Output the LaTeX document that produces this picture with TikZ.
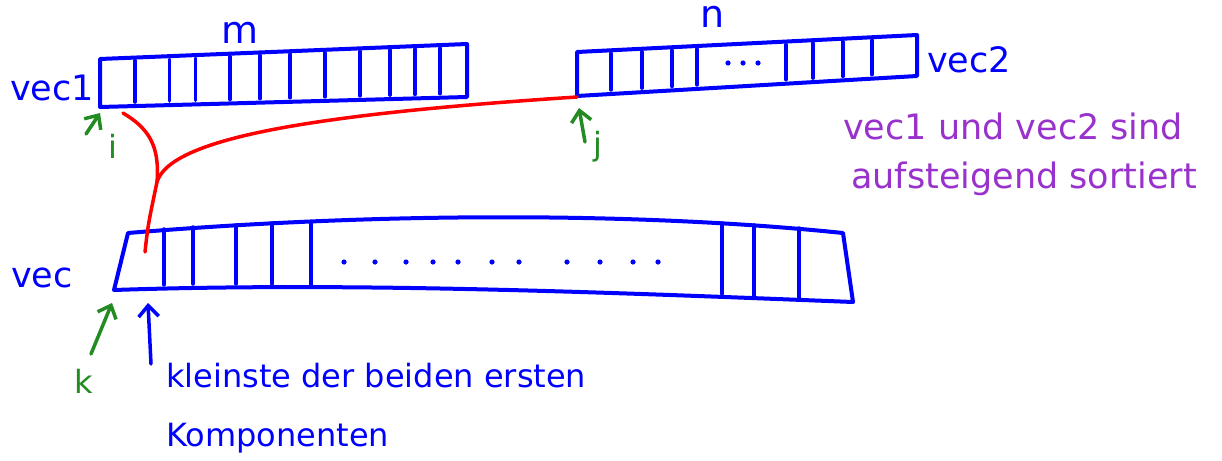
\documentclass[tikz,border=0pt]{standalone}
\usepackage{fontspec}
\setmainfont{DejaVu Sans}
\usetikzlibrary{arrows.meta,calc}
\definecolor{penblue}{RGB}{0,0,255}
\definecolor{pengreen}{RGB}{34,139,34}
\definecolor{penred}{RGB}{255,0,0}
\definecolor{penpurple}{RGB}{153,50,204}
\begin{document}
\begin{tikzpicture}[x=1pt,y=-1pt,
  ink/.style={line width=4pt,line cap=round,line join=round},
  vecbox/.style={ink,draw=penblue},
  divider/.style={ink,draw=penblue,line width=3.5pt},
  dotmark/.style={fill=penblue,draw=none},
  vlabel/.style={text=penblue,font=\fontsize{35}{38}\selectfont,inner sep=0pt,anchor=base west},
  sizelabel/.style={text=penblue,font=\fontsize{38}{40}\selectfont,inner sep=0pt,anchor=base},
  idx/.style={text=pengreen,font=\fontsize{32}{34}\selectfont,inner sep=0pt,anchor=base},
  note/.style={text=penpurple,font=\fontsize{35}{40}\selectfont,inner sep=0pt,anchor=base west},
  bluenote/.style={text=penblue,font=\fontsize{32}{36}\selectfont,inner sep=0pt,anchor=base west},
  ptr/.style={line width=3.5pt,line cap=round,-{Straight Barb[length=11pt,width=20pt,line width=3.5pt]}},
  greenptr/.style={ptr,draw=pengreen},
  blueptr/.style={ptr,draw=penblue},
  merge/.style={ink,draw=penred,line width=3.5pt}]
\useasboundingbox (0,0) rectangle (1222,460);

% ---------- vec1 ----------
\coordinate (v1tl) at (100,59);
\coordinate (v1tr) at (467,44);
\coordinate (v1br) at (467,97);
\coordinate (v1bl) at (100,107);
\draw[vecbox] (v1tl) -- (v1tr) -- (v1br) -- (v1bl) -- cycle;
\foreach \t in {0.095,0.19,0.26,0.354,0.436,0.518,0.613,0.708,0.79,0.858,0.926}
  \draw[divider] ($(v1tl)!\t!(v1tr)+(0,3)$) -- ($(v1bl)!\t!(v1br)+(0,-4)$);
\node[vlabel] (vecone) at (10,100) {vec1};
\node[sizelabel] (mlab) at (240,44) {m};

% ---------- vec2 ----------
\coordinate (v2tl) at (577,52);
\coordinate (v2tr) at (917,35);
\coordinate (v2br) at (917,76);
\coordinate (v2bl) at (577,96);
\draw[vecbox] (v2tl) -- (v2tr) -- (v2br) -- (v2bl) -- cycle;
\foreach \t in {0.10,0.191,0.279,0.353,0.615,0.694,0.782,0.868}
  \draw[divider] ($(v2tl)!\t!(v2tr)+(0,3)$) -- ($(v2bl)!\t!(v2br)+(0,-4)$);
\foreach \x in {728,743,758}
  \fill[dotmark] (\x,63) circle (2.6pt);
\node[vlabel] (vectwo) at (927,72) {vec2};
\node[sizelabel] (nlab) at (713,28) {n};

% ---------- vec ----------
\coordinate (vtl) at (128,233);
\coordinate (vtr) at (843,233);
\coordinate (vbr) at (853,302);
\coordinate (vbl) at (114,290);
\draw[vecbox] (vtl) .. controls (380,212) and (640,212) .. (vtr)
  -- (vbr) .. controls (600,292) and (350,282) .. (vbl) -- cycle;
\foreach \x/\ya/\yb in {164/229/285,193/227/284,236/225/284,272/223/284,311/222/285,
                        722/223/294,754/225/296,799/228/298}
  \draw[divider] (\x,\ya) -- (\x,\yb);
\foreach \x in {344,375,406,433,458,492,519,567,600,633,658}
  \fill[dotmark] (\x,262) circle (2.6pt);
\node[vlabel] (vecall) at (11,287) {vec};

% ---------- indices ----------
\node[idx] (ilab) at (113,158) {i};
\node[idx] (jlab) at (598,155) {j};
\node[idx] (klab) at (84,393) {k};
\coordinate (itail) at (86,134);
\coordinate (itip) at (100,113);
\coordinate (jtail) at (585,142);
\coordinate (jtip) at (579,108);
\coordinate (ktail) at (91,354);
\coordinate (ktip) at (112,303);
\draw[greenptr] (itail) -- (itip);
\draw[greenptr] (jtail) -- (jtip);
\draw[greenptr] (ktail) -- (ktip);

% ---------- merge (red) ----------
\coordinate (vstart) at (145,252);
\coordinate (junct) at (157,182);
\coordinate (ifirst) at (123,113);
\coordinate (jfirst) at (577,97);
\draw[merge] (vstart) .. controls (148,225) .. (junct);
\draw[merge] (junct) .. controls (160,145) and (148,128) .. (ifirst);
\draw[merge] (junct) .. controls (170,140) and (300,115) .. (jfirst);

% ---------- notes ----------
\node[note] (sorted1) at (843,139) {vec1 und vec2 sind};
\node[note] (sorted2) at (851,188) {aufsteigend sortiert};
\coordinate (ntail) at (151,364);
\coordinate (ntip) at (148,303);
\draw[blueptr] (ntail) -- (ntip);
\node[bluenote] (small1) at (166,387) {kleinste der beiden ersten};
\node[bluenote] (small2) at (166,446) {Komponenten};
\end{tikzpicture}
\end{document}
